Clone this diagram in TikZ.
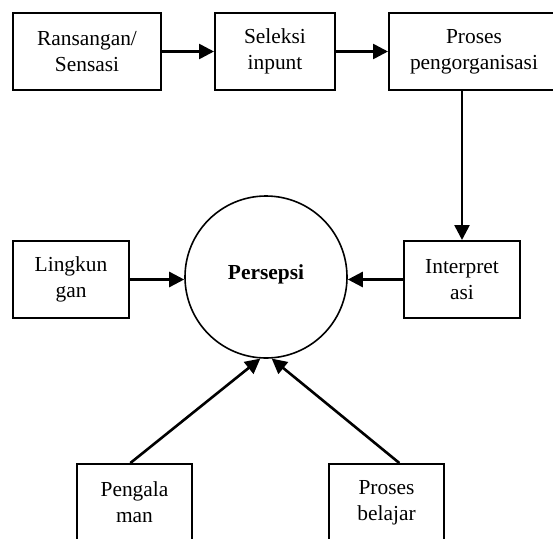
\documentclass[tikz,border=0pt]{standalone}
\usepackage{fontspec}
\setmainfont{Liberation Serif}
\usetikzlibrary{arrows.meta}
\tikzstyle{box}=[rectangle, draw, line width=2pt, minimum height=77pt, inner sep=0pt, align=center, font=\fontsize{21.4}{26}\selectfont]
\tikzstyle{arr}=[line width=2.6pt, -{Triangle[length=15pt,width=15pt]}]

\begin{document}
\begin{tikzpicture}[x=1pt, y=-1pt]
			\useasboundingbox (0,0) rectangle (553,538);
			\clip (0,0) rectangle (553,538);

			% Top row
			\node[box, minimum width=148pt] (rans) at (87, 51.5) {Ransangan/\\Sensasi};
			\node[box, minimum width=120pt] (sel) at (275, 51.5) {Seleksi\\inpunt};
			\node[box, minimum width=170pt] (org) at (474, 51.5) {Proses\\pengorganisasi};
			% Middle row
			\node[box, minimum width=116pt] (ling) at (71, 279.5) {Lingkun\\gan};
			\node[circle, draw, line width=1.6pt, minimum size=162pt, inner sep=0pt,
				font=\fontsize{21.4}{26}\selectfont\bfseries] (pers) at (266, 277) {\raisebox{9pt}{Persepsi}};
			\node[box, minimum width=116pt] (interp) at (462, 279.5) {Interpret\\asi};
			% Bottom row
			\node[box, minimum width=115pt] (peng) at (134.5, 502.5) {Pengala\\man};
			\node[box, minimum width=115pt] (bel) at (386.5, 502.5) {Proses\\belajar};

			% Chain
			\draw[arr] (rans) -- (sel);
			\draw[arr] (sel) -- (org);
			\draw[arr] (org.south -| interp.north) -- (interp.north);
			% Into the circle
			\draw[arr] (ling) -- (ling -| pers.west);
			\draw[arr] (interp) -- (interp -| pers.east);
			\draw[arr] (peng.96) -- (pers.266);
			\draw[arr] (bel.72) -- (pers.274);
		\end{tikzpicture}
\end{document}
